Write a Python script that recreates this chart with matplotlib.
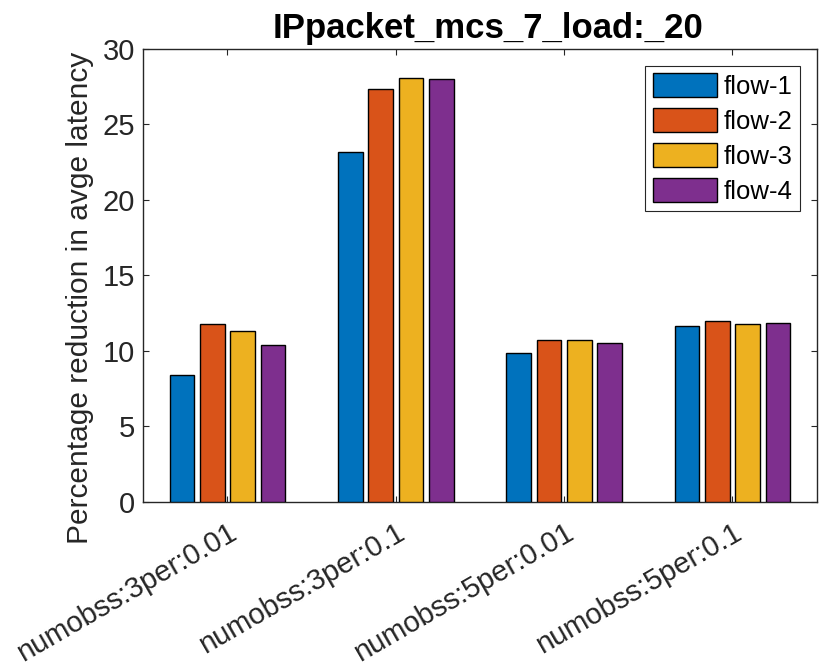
import matplotlib
matplotlib.use("Agg")
import matplotlib.pyplot as plt
import numpy as np

categories = ["numobss:3per:0.01", "numobss:3per:0.1", "numobss:5per:0.01", "numobss:5per:0.1"]
series_names = ["flow-1", "flow-2", "flow-3", "flow-4"]
flow1 = [8.39, 23.17, 9.85, 11.65]
flow2 = [11.78, 27.34, 10.69, 11.98]
flow3 = [11.31, 28.05, 10.74, 11.80]
flow4 = [10.38, 27.98, 10.54, 11.87]
yticks = [0, 5, 10, 15, 20, 25, 30]

colors = ["#0072BD", "#D95319", "#EDB120", "#7E2F8E"]
axcol = (0.15, 0.15, 0.15)

plt.rcParams['font.family'] = ['Liberation Sans', 'DejaVu Sans']

fig = plt.figure(figsize=(8.23, 6.69), dpi=100)
ax = fig.add_axes([0.1741, 0.2501, 0.8182, 0.6767])

x = np.arange(1, len(categories) + 1)
pitch = 0.18
width = 0.147
for i, (vals, name) in enumerate(zip([flow1, flow2, flow3, flow4], series_names)):
    ax.bar(x + (i - 1.5) * pitch, vals, width, color=colors[i], edgecolor='black',
           linewidth=1.0, label=name, zorder=3)

ax.set_xlim(0.5, 4.5)
ax.set_ylim(0, 30)
ax.set_yticks(yticks)
ax.set_xticks(x)
ax.set_xticklabels(categories, rotation=30, ha='right', va='top', rotation_mode='anchor')
ax.tick_params(axis='both', which='both', direction='in', top=True, right=True,
               length=4.3, width=0.8, color=axcol, labelsize=21, labelcolor=axcol)
ax.tick_params(axis='x', pad=12)
ax.tick_params(axis='y', pad=6)
for s in ax.spines.values():
    s.set_color(axcol)
    s.set_linewidth(1.0)

ax.set_ylabel("Percentage reduction in avge latency", fontsize=21.5, color=axcol)
ax.yaxis.set_label_coords(-0.073, 0.45)
ax.set_title("IPpacket_mcs_7_load:_20", fontsize=25, fontweight='bold', pad=8, x=0.512)

leg = ax.legend(loc='upper right', fontsize=18.5, handlelength=2.5, handleheight=1.04,
                labelspacing=0.36, handletextpad=0.25, borderpad=0.3, borderaxespad=0.65,
                fancybox=False, framealpha=1, edgecolor=axcol)
leg.get_frame().set_linewidth(0.8)

fig.savefig("out.png", dpi=100, facecolor='white')
